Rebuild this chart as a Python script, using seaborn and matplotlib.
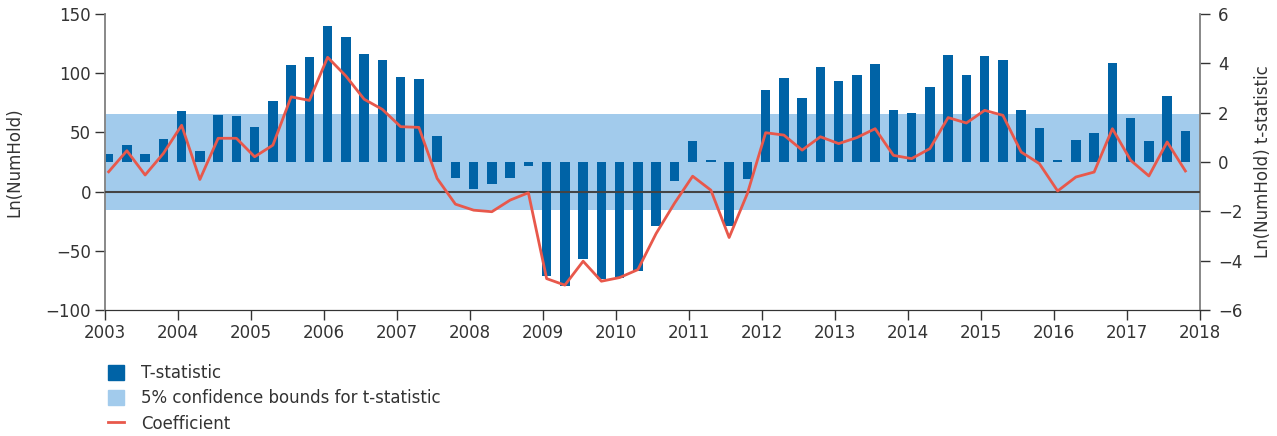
import matplotlib
matplotlib.use("Agg")
import matplotlib.pyplot as plt
import matplotlib.patches as mpatches
from matplotlib.lines import Line2D
import seaborn as sns
import numpy as np
import pandas as pd

# quarterly t-statistics, 2003Q1 .. 2017Q4 (right axis)
t_stat = [
    0.33, 0.67, 0.33, 0.93,
    2.06, 0.44, 1.91, 1.86,
    1.41, 2.47, 3.93, 4.24,
    5.51, 5.05, 4.39, 4.12,
    3.43, 3.35, 1.06, -0.64,
    -1.10, -0.90, -0.63, -0.17,
    -4.63, -5.03, -3.92, -4.74,
    -4.70, -4.42, -2.58, -0.79,
    0.84, 0.06, -2.58, -0.68,
    2.91, 3.41, 2.60, 3.85,
    3.27, 3.51, 3.96, 2.12,
    2.00, 3.04, 4.32, 3.53,
    4.28, 4.14, 2.09, 1.36,
    0.08, 0.88, 1.16, 4.00,
    1.77, 0.84, 2.66, 1.27,
]
# quarterly coefficient (left axis)
coef = [
    16.7, 34.5, 14.0, 32.2,
    56.0, 10.2, 45.0, 45.0,
    29.4, 39.2, 80.0, 77.0,
    113.4, 97.6, 78.0, 69.4,
    54.8, 54.2, 11.1, -10.6,
    -15.7, -17.0, -7.2, -1.0,
    -73.5, -79.0, -58.8, -75.7,
    -72.6, -65.9, -35.4, -10.0,
    13.0, 1.2, -38.8, -1.6,
    49.7, 47.7, 35.0, 46.3,
    40.5, 45.6, 53.1, 30.6,
    27.8, 36.3, 62.5, 57.9,
    68.6, 64.4, 33.4, 23.6,
    0.5, 12.3, 16.5, 53.1,
    26.4, 13.2, 41.9, 17.4,
]
years = list(range(2003, 2019))
conf_bound = 1.96

quarters = [y + q / 4 for y in range(2003, 2018) for q in range(4)]
df = pd.DataFrame({"date": np.array(quarters) + 0.05, "t_stat": t_stat, "coef": coef})

dark_blue = "#0063a6"
light_blue = "#a2cbec"
red = "#e8584b"
text_col = "#333333"

plt.rcParams["font.family"] = ["DejaVu Sans"]
plt.rcParams["font.size"] = 12

fig = plt.figure(figsize=(12.77, 4.36), dpi=100)
ax = fig.add_axes([0.0822, 0.289, 0.8575, 0.679])
ax2 = ax.twinx()

# t-statistic layer (behind)
ax2.axhspan(-conf_bound, conf_bound, color=light_blue, lw=0, zorder=0)
sns.barplot(data=df, x="date", y="t_stat", native_scale=True, width=0.53,
            color=dark_blue, saturation=1, errorbar=None, ax=ax2, zorder=2)
ax2.set_ylim(-6, 6)
ax2.set_yticks(range(-6, 7, 2))
ax2.set_ylabel("Ln(NumHold) t-statistic", color=text_col, fontsize=12, labelpad=8)

# coefficient layer (on top)
ax.set_zorder(ax2.get_zorder() + 1)
ax.patch.set_visible(False)
ax.axhline(0, color="#444444", lw=1.5, zorder=3)
sns.lineplot(data=df, x="date", y="coef", color=red, lw=2, ax=ax, zorder=4)
ax.set_ylim(-100, 150)
ax.set_yticks(range(-100, 151, 50))
ax.set_ylabel("Ln(NumHold)", color=text_col, fontsize=12, labelpad=16)
ax.set_xlabel("")
ax2.set_xlabel("")

for a in (ax, ax2):
    a.set_xlim(2003, 2018)
    a.set_xticks(years)
    a.set_xticklabels([str(y) for y in years])
    a.spines["top"].set_visible(False)
    a.tick_params(colors=text_col, labelsize=12, length=7, width=1, direction="out", pad=3)
ax2.tick_params(axis="y", pad=6)

for s in ("left", "right"):
    ax.spines[s].set_color("#888888")
    ax2.spines[s].set_color("#888888")
    ax.spines[s].set_linewidth(1.2)
    ax2.spines[s].set_linewidth(1.2)
ax.spines["bottom"].set_color("#333333")
ax2.spines["bottom"].set_color("#333333")

handles = [
    mpatches.Patch(color=dark_blue, label="T-statistic"),
    mpatches.Patch(color=light_blue, label="5% confidence bounds for t-statistic"),
    Line2D([], [], color=red, lw=2, label="Coefficient"),
]
leg = fig.legend(handles=handles, loc="upper left", bbox_to_anchor=(0.079, 0.181),
                 frameon=False, fontsize=12, handlelength=1.0, handleheight=1.0,
                 labelspacing=0.45, handletextpad=1.0, borderaxespad=0)
for t in leg.get_texts():
    t.set_color(text_col)

fig.savefig("out.png", dpi=100)
